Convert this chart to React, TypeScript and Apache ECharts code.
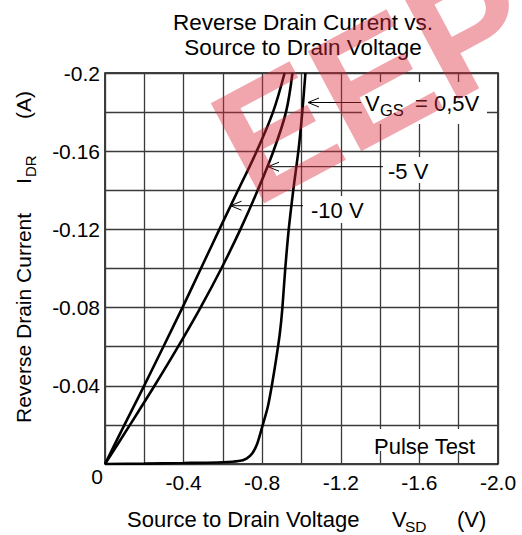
import React, { useEffect, useRef } from "react";
import * as echarts from "echarts";

// ---- data ----
// x: source-to-drain voltage V_SD (V), y: reverse drain current I_DR (A)
const vgsHalfV = [0, -0.2, -0.4, -0.6, -0.68, -0.72, -0.75, -0.775, -0.8, -0.828, -0.848, -0.87, -0.89, -0.902, -0.917, -0.935, -0.958, -0.984, -1.004, -1.02];
const vgsHalfI = [0, -0.0002, -0.0005, -0.0009, -0.0015, -0.0028, -0.0055, -0.0105, -0.019, -0.029, -0.0395, -0.053, -0.067, -0.079, -0.0995, -0.12, -0.14, -0.16, -0.18, -0.2];

const vgsM5V = [0, -0.127, -0.252, -0.372, -0.486, -0.592, -0.689, -0.777, -0.857, -0.921, -0.954];
const vgsM5I = [0, -0.02, -0.04, -0.06, -0.08, -0.1, -0.12, -0.14, -0.16, -0.18, -0.2];

const vgsM10V = [0, -0.099, -0.199, -0.297, -0.394, -0.488, -0.582, -0.677, -0.772, -0.855, -0.914];
const vgsM10I = [0, -0.02, -0.04, -0.06, -0.08, -0.1, -0.12, -0.14, -0.16, -0.18, -0.2];

const xTickLabels = ["-0.4", "-0.8", "-1.2", "-1.6", "-2.0"];
const yTickLabels = ["-0.04", "-0.08", "-0.12", "-0.16", "-0.2"];

const FONT = "'Liberation Sans', Arial, Helvetica, sans-serif";

function pairs(xs: number[], ys: number[]) {
  return xs.map((x, i) => [x, ys[i]]);
}

function arrow(x1: number, x2: number, y: number) {
  return [
    { type: "line", z: 120, shape: { x1, y1: y, x2, y2: y }, style: { stroke: "#000", lineWidth: 1 } },
    {
      type: "polyline",
      z: 120,
      shape: { points: [[x1 + 11, y - 4.5], [x1, y], [x1 + 11, y + 4.5]] },
      style: { stroke: "#000", lineWidth: 1, fill: "none" },
    },
  ];
}

function txt(text: string, x: number, y: number, size: number, align = "left", extra: any = {}) {
  return {
    type: "text",
    z: 110,
    x,
    y,
    style: { text, font: `${size}px ${FONT}`, fill: "#000", align, verticalAlign: "middle", ...extra },
  };
}

function whiteBox(x: number, y: number, w: number, h: number) {
  return { type: "rect", z: 105, shape: { x, y, width: w, height: h }, style: { fill: "#fff" } };
}

export default function App() {
  const ref = useRef<HTMLDivElement>(null);
  useEffect(() => {
    const chart = echarts.init(ref.current!, null, { renderer: "svg" });
    const curveStyle = { color: "#000", width: 2.6 };
    chart.setOption({
      animation: false,
      backgroundColor: "#fff",
      grid: { left: 105, top: 73, width: 393, height: 391, show: true, borderColor: "#000", borderWidth: 1.5 },
      xAxis: {
        type: "value",
        min: -2,
        max: 0,
        interval: 0.2,
        inverse: true,
        axisLine: { show: false },
        axisTick: { show: false },
        splitLine: { show: true, lineStyle: { color: "#3a3a3a", width: 1.3 } },
        axisLabel: {
          margin: 8,
          color: "#000",
          fontSize: 21,
          fontFamily: FONT,
          formatter: (v: number) => {
            const k = Math.round(-v / 0.2);
            if (k === 0 || k % 2) return "";
            return xTickLabels[k / 2 - 1] ?? "";
          },
        },
      },
      yAxis: {
        type: "value",
        min: -0.2,
        max: 0,
        interval: 0.02,
        inverse: true,
        axisLine: { show: false },
        axisTick: { show: false },
        splitLine: { show: true, lineStyle: { color: "#3a3a3a", width: 1.3 } },
        axisLabel: {
          margin: 5,
          color: "#000",
          fontSize: 21,
          fontFamily: FONT,
          formatter: (v: number) => {
            const k = Math.round(-v / 0.02);
            if (k === 0 || k % 2) return "";
            return yTickLabels[k / 2 - 1] ?? "";
          },
        },
      },
      series: [
        { type: "line", name: "VGS=0.5V", data: pairs(vgsHalfV, vgsHalfI), showSymbol: false, smooth: 0.25, lineStyle: curveStyle, clip: true },
        { type: "line", name: "VGS=-5V", data: pairs(vgsM5V, vgsM5I), showSymbol: false, smooth: 0.35, lineStyle: curveStyle, clip: true },
        { type: "line", name: "VGS=-10V", data: pairs(vgsM10V, vgsM10I), showSymbol: false, smooth: 0.35, lineStyle: curveStyle, clip: true },
      ],
      graphic: [
        // title
        txt("Reverse Drain Current vs.", 303, 22, 22.5, "center"),
        txt("Source to Drain Voltage", 303, 47, 22.5, "center"),
        // corner zero
        txt("0", 97, 476, 21, "center"),
        // x axis name
        txt("Source to Drain Voltage", 127, 519, 22),
        txt("V", 392, 519, 22),
        txt("SD", 405, 526, 15.5),
        txt("(V)", 457, 519, 22),
        // y axis name (rotated)
        {
          type: "group",
          x: 23,
          y: 423,
          rotation: Math.PI / 2,
          z: 110,
          children: [
            { type: "text", z: 110, x: 0, y: 0, style: { text: "Reverse Drain Current", font: `21px ${FONT}`, fill: "#000", align: "left", verticalAlign: "middle" } },
            { type: "text", z: 110, x: 239, y: 0, style: { text: "I", font: `21px ${FONT}`, fill: "#000", align: "left", verticalAlign: "middle" } },
            { type: "text", z: 110, x: 246, y: 7, style: { text: "DR", font: `15px ${FONT}`, fill: "#000", align: "left", verticalAlign: "middle" } },
            { type: "text", z: 110, x: 304, y: 0, style: { text: "(A)", font: `21px ${FONT}`, fill: "#000", align: "left", verticalAlign: "middle" } },
          ],
        },
        // annotation boxes
        whiteBox(362, 82, 125, 42),
        whiteBox(383, 157, 52, 26),
        whiteBox(306, 196, 62, 27),
        whiteBox(368, 429, 119, 22),
        // annotations
        ...arrow(308, 361, 102.5),
        txt("V", 365, 103, 22),
        txt("GS", 380, 110, 16.5),
        txt("= 0,5V", 415, 103, 22),
        ...arrow(268, 383, 166.7),
        txt("-5 V", 388, 171, 22),
        ...arrow(230.5, 303, 205.7),
        txt("-10 V", 311, 210, 22),
        txt("Pulse Test", 374, 446, 22),
        // watermark
        {
          type: "text",
          z: 200,
          x: 250,
          y: 200,
          rotation: 0.49,
          style: {
            text: "EEPW",
            x: 0,
            y: 35,
            font: `bold 165px ${FONT}`,
            fill: "rgba(222,40,60,0.42)",
            align: "left",
            verticalAlign: "bottom",
          },
        },
      ],
    });
    return () => chart.dispose();
  }, []);
  return <div ref={ref} style={{ position: "absolute", left: 0, top: 0, width: 522, height: 535 }} />;
}
